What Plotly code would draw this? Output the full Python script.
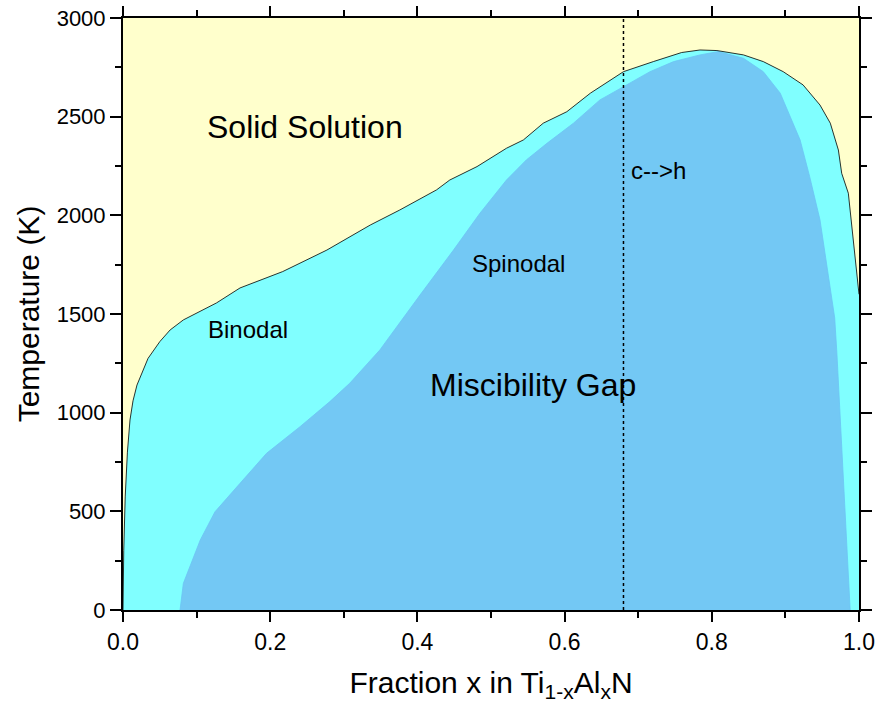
import plotly.graph_objects as go

# Binodal curve (upper boundary of the two-phase region)
binodal_x = [0.0, 0.001, 0.003, 0.006, 0.0095, 0.0136, 0.019, 0.0254, 0.034, 0.050, 0.064, 0.082,
             0.100, 0.127, 0.159, 0.182, 0.217, 0.277, 0.336, 0.376, 0.426, 0.444, 0.481, 0.521,
             0.544, 0.571, 0.603, 0.635, 0.680, 0.7205, 0.759, 0.784, 0.807, 0.843, 0.870, 0.897,
             0.924, 0.947, 0.961, 0.972, 0.9765, 0.9855, 0.992, 0.996, 0.998, 1.0]
binodal_T = [0, 300, 573, 800, 963, 1060, 1140, 1201, 1275, 1360, 1419, 1470,
             1505, 1556, 1632, 1664, 1715, 1824, 1951, 2027, 2129, 2179, 2247, 2340,
             2382, 2467, 2525, 2619, 2728, 2779, 2825, 2838, 2835, 2813, 2779, 2728,
             2661, 2559, 2467, 2331, 2213, 2112, 1892, 1740, 1660, 1600]

# Spinodal curve
spin_x = [0.0775, 0.082, 0.105, 0.125, 0.159, 0.195, 0.2405, 0.281, 0.308, 0.349, 0.4035,
          0.449, 0.485, 0.521, 0.548, 0.576, 0.612, 0.648, 0.680, 0.716, 0.748, 0.784, 0.809,
          0.843, 0.870, 0.893, 0.920, 0.933, 0.947, 0.958, 0.963, 0.967, 0.970, 0.9765, 0.981,
          0.9855, 0.988]
spin_T = [0, 135, 355, 498, 642, 794, 929, 1056, 1149, 1318, 1596,
          1824, 2011, 2179, 2281, 2365, 2467, 2585, 2652, 2728, 2779, 2813, 2830,
          2796, 2728, 2619, 2382, 2196, 1977, 1700, 1590, 1480, 1300, 828, 490,
          186, 0]

transition_x = 0.68

x_ticks = [0.0, 0.2, 0.4, 0.6, 0.8, 1.0]
x_ticklabels = ["0.0", "0.2", "0.4", "0.6", "0.8", "1.0"]
y_ticks = [0, 500, 1000, 1500, 2000, 2500, 3000]

FONT = "Liberation Sans, Arial, sans-serif"

fig = go.Figure()

# Binodal filled region
fig.add_trace(go.Scatter(
    x=binodal_x + [1.0, 0.0], y=binodal_T + [0, 0],
    fill="toself", fillcolor="#80FFFF", line=dict(width=0), mode="lines",
    hoverinfo="skip", showlegend=False))

# Spinodal filled region
fig.add_trace(go.Scatter(
    x=spin_x, y=spin_T,
    fill="toself", fillcolor="#73C8F4", line=dict(width=0.8, color="#6CC4F4"), mode="lines",
    hoverinfo="skip", showlegend=False))

# Binodal outline
fig.add_trace(go.Scatter(
    x=binodal_x, y=binodal_T, mode="lines",
    line=dict(color="black", width=0.8), hoverinfo="skip", showlegend=False))

# Transition line
fig.add_trace(go.Scatter(
    x=[transition_x, transition_x], y=[0, 3000], mode="lines",
    line=dict(color="black", width=1.5, dash="dot"), hoverinfo="skip", showlegend=False))

annotations = [
    dict(x=0.247, y=2448, text="Solid Solution", size=32),
    dict(x=0.17, y=1419, text="Binodal", size=24),
    dict(x=0.537, y=1754, text="Spinodal", size=24),
    dict(x=0.557, y=1140, text="Miscibility Gap", size=32),
]
for a in annotations:
    fig.add_annotation(x=a["x"], y=a["y"], text=a["text"], showarrow=False,
                       font=dict(family=FONT, size=a["size"], color="black"),
                       xanchor="center", yanchor="middle")
fig.add_annotation(x=0.6875, y=2225, text="c-->h", showarrow=False,
                   font=dict(family=FONT, size=24, color="black"),
                   xanchor="left", yanchor="middle")

fig.update_layout(
    width=877, height=708,
    margin=dict(l=123, r=18, t=18, b=98, autoexpand=False),
    plot_bgcolor="#FFFFCC", paper_bgcolor="white",
    font=dict(family=FONT, color="black"),
)
fig.update_xaxes(
    range=[0, 1.0], tickvals=x_ticks, ticktext=x_ticklabels,
    ticks="outside", ticklen=10, tickwidth=2, tickcolor="black",
    minor=dict(dtick=0.1, ticks="outside", ticklen=6, tickwidth=2, tickcolor="black"),
    showline=True, linewidth=2, linecolor="black", mirror="allticks",
    showgrid=False, zeroline=False,
    tickfont=dict(size=23, family=FONT),
    title=dict(text="Fraction x in Ti<sub>1-x</sub>Al<sub>x</sub>N", font=dict(size=30, family=FONT),
               standoff=18),
)
fig.update_yaxes(
    range=[0, 3000], tickvals=y_ticks,
    ticks="outside", ticklen=11, tickwidth=2, tickcolor="black",
    minor=dict(dtick=250, ticks="outside", ticklen=6, tickwidth=2, tickcolor="black"),
    showline=True, linewidth=2, linecolor="black", mirror="allticks",
    showgrid=False, zeroline=False,
    tickfont=dict(size=22, family=FONT),
    title=dict(text="Temperature (K)", font=dict(size=30, family=FONT), standoff=8),
)

fig.write_html("out.html")
